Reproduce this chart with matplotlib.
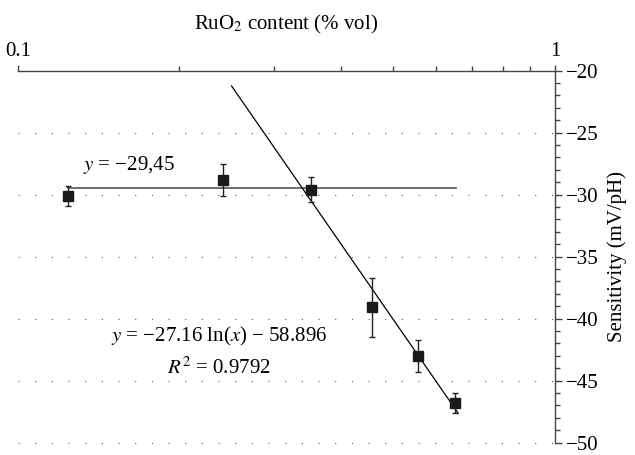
import numpy as np
import matplotlib
matplotlib.use("Agg")
import matplotlib.pyplot as plt
from matplotlib.ticker import FixedLocator, NullFormatter

# -----------------------------------
# DATA
# -----------------------------------

ruo2_content = [0.124, 0.241, 0.351, 0.456, 0.557, 0.652]
sensitivity = [-30.1, -28.8, -29.6, -39.1, -43.0, -46.8]
sens_error = [0.8, 1.3, 1.0, 2.4, 1.3, 0.8]

# constant fit for the low content points
flat_value = -29.45
flat_range = [0.124, 0.653]

# log fit for the high content points
fit_slope = -27.16
fit_intercept = -58.896
fit_range = [0.25, 0.66]

y_major = [-50, -45, -40, -35, -30, -25, -20]
x_major = [0.1, 1]

# -----------------------------------
# STYLE
# -----------------------------------

plt.rcParams["font.family"] = ["Liberation Serif", "DejaVu Serif"]
plt.rcParams["mathtext.fontset"] = "stix"

fig = plt.figure(figsize=(6.35, 4.55), dpi=100)
ax = fig.add_axes([0.028, 0.027, 0.846, 0.818])

# -----------------------------------
# PLOT
# -----------------------------------

ax.plot(flat_range, [flat_value, flat_value], color="#555555", lw=1.2, zorder=2)

fit_x = np.linspace(fit_range[0], fit_range[1], 100)
ax.plot(fit_x, fit_slope * np.log(fit_x) + fit_intercept,
        color="black", lw=0.9, zorder=2)

ax.errorbar(
    ruo2_content,
    sensitivity,
    yerr=sens_error,
    fmt="s",
    color="#1a1a1a",
    ecolor="#222222",
    elinewidth=1.0,
    capsize=2.5,
    capthick=1.0,
    markersize=6.5,
    zorder=3
)

# -----------------------------------
# AXES
# -----------------------------------

ax.set_xscale("log")
ax.set_xlim(0.1, 1)
ax.set_ylim(-50, -20)

ax.xaxis.set_ticks_position("top")
ax.xaxis.set_label_position("top")
ax.yaxis.set_ticks_position("right")
ax.yaxis.set_label_position("right")

ax.spines["bottom"].set_visible(False)
ax.spines["left"].set_visible(False)
for side in ["top", "right"]:
    ax.spines[side].set_color("#444444")
    ax.spines[side].set_linewidth(1.0)

ax.xaxis.set_major_locator(FixedLocator(x_major))
ax.set_xticklabels(["0.1", "1"])
ax.xaxis.set_minor_locator(FixedLocator(np.arange(0.2, 1.0, 0.1)))
ax.xaxis.set_minor_formatter(NullFormatter())

ax.yaxis.set_major_locator(FixedLocator(y_major))
ax.set_yticklabels(["\u221250", "\u221245", "\u221240", "\u221235",
                    "\u221230", "\u221225", "\u221220"])
ax.yaxis.set_minor_locator(FixedLocator(np.arange(-49, -20, 1)))

ax.tick_params(axis="both", which="major", direction="out", length=5,
               width=1.0, color="#444444", labelsize=15, pad=3)
ax.tick_params(axis="both", which="minor", direction="out", length=3.5,
               width=1.0, color="#444444")
ax.tick_params(axis="x", which="major", length=4, pad=3)

ax.set_xlabel("RuO$_2$ content (% vol)", fontsize=15, labelpad=9)
ax.set_ylabel("Sensitivity (mV/pH)", fontsize=15, labelpad=6)

for yv in y_major[:-1]:
    ax.axhline(yv, color="#555555", lw=0.8, linestyle=(0, (1, 14)),
               zorder=1, clip_on=False)

# -----------------------------------
# ANNOTATIONS
# -----------------------------------

ax.text(0.132, -27.6, "$y$ = \u221229,45", fontsize=15, ha="left", va="center")
ax.text(0.237, -41.4, "$y$ = \u221227.16 ln($x$) \u2212 58.896",
        fontsize=15, ha="center", va="center")
ax.text(0.237, -44.0, "$R^2$ = 0.9792", fontsize=15, ha="center", va="center")

fig.savefig("out.png", dpi=100)
